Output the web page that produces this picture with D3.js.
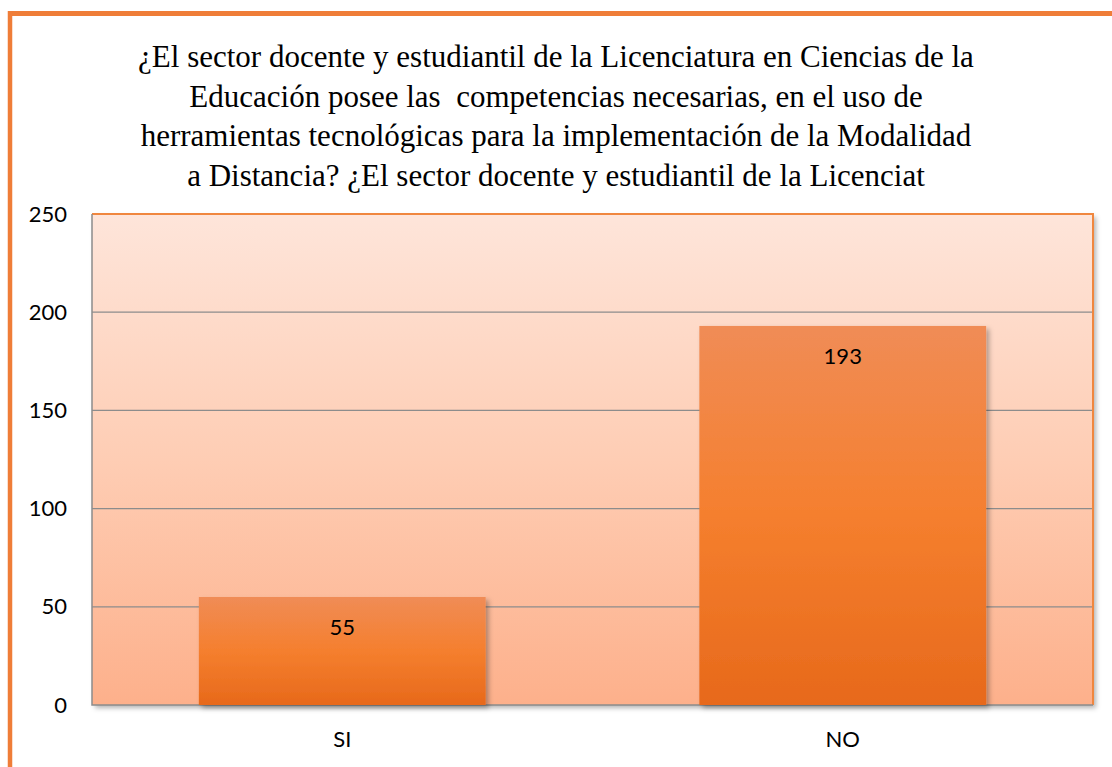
<!DOCTYPE html>
<html>
<head>
<meta charset="utf-8">
<script src="https://cdn.jsdelivr.net/npm/d3@7"></script>
<style>
  body { margin: 0; background: #fff; }
  svg { display: block; }
</style>
</head>
<body>
<script>
var categories = ['SI', 'NO'];
var values = [55, 193];
var yTicks = [0, 50, 100, 150, 200, 250];
var titleLines = [
  '¿El sector docente y estudiantil de la Licenciatura en Ciencias de la',
  'Educación posee las  competencias necesarias, en el uso de',
  'herramientas tecnológicas para la implementación de la Modalidad',
  'a Distancia? ¿El sector docente y estudiantil de la Licenciat'
];

var W = 1112, H = 767;
var svg = d3.select('body').append('svg').attr('width', W).attr('height', H);

var defs = svg.append('defs');

// plot background gradient
var bg = defs.append('linearGradient').attr('id', 'bgGrad')
  .attr('x1', 0).attr('y1', 0).attr('x2', 0).attr('y2', 1);
bg.append('stop').attr('offset', '0%').attr('stop-color', '#fee5da');
bg.append('stop').attr('offset', '50%').attr('stop-color', '#fecdb4');
bg.append('stop').attr('offset', '100%').attr('stop-color', '#fdb08b');

// bar gradient
var bg2 = defs.append('linearGradient').attr('id', 'barGrad')
  .attr('x1', 0).attr('y1', 0).attr('x2', 0).attr('y2', 1);
bg2.append('stop').attr('offset', '0%').attr('stop-color', '#f08c56');
bg2.append('stop').attr('offset', '50%').attr('stop-color', '#f57f2e');
bg2.append('stop').attr('offset', '100%').attr('stop-color', '#e7691b');

var shadow = defs.append('filter').attr('id', 'shadow')
  .attr('x', '-10%').attr('y', '-10%').attr('width', '130%').attr('height', '130%');
shadow.append('feDropShadow').attr('dx', 3).attr('dy', 3).attr('stdDeviation', 2.5)
  .attr('flood-color', '#000').attr('flood-opacity', 0.3);

// outer frame
svg.append('line').attr('x1', 8).attr('y1', 13.5).attr('x2', W).attr('y2', 13.5)
  .attr('stroke', '#ef7d38').attr('stroke-width', 5);
svg.append('line').attr('x1', 10).attr('y1', 11).attr('x2', 10).attr('y2', H)
  .attr('stroke', '#ef7d38').attr('stroke-width', 4.5);

// title
svg.append('g').selectAll('text')
  .data(titleLines)
  .enter().append('text')
    .attr('x', 556)
    .attr('y', (d, i) => 67 + i * 39.5)
    .attr('text-anchor', 'middle')
    .attr('font-family', '"Liberation Serif", "Times New Roman", serif')
    .attr('font-size', 31)
    .attr('fill', '#000')
    .style('white-space', 'pre')
    .text(d => d);

var pLeft = 92, pRight = 1093, pTop = 214, pBottom = 705;

var x = d3.scaleBand().domain(categories).range([pLeft, pRight])
  .paddingInner(0.427).paddingOuter(0.2135);
var y = d3.scaleLinear().domain([0, 250]).range([pBottom, pTop]);

// plot area
svg.append('rect')
  .attr('x', pLeft).attr('y', pTop)
  .attr('width', pRight - pLeft).attr('height', pBottom - pTop)
  .attr('fill', 'url(#bgGrad)')
  .attr('filter', 'url(#shadow)');

// gridlines
svg.append('g').selectAll('line')
  .data(yTicks.filter(d => d > 0 && d < 250))
  .enter().append('line')
    .attr('x1', pLeft).attr('x2', pRight)
    .attr('y1', d => y(d)).attr('y2', d => y(d))
    .attr('stroke', '#8c8c8c').attr('stroke-width', 1.2);

// plot area border: orange top/right, gray left/bottom
svg.append('path')
  .attr('d', 'M' + pLeft + ',' + pTop + 'H' + pRight + 'V' + pBottom)
  .attr('fill', 'none').attr('stroke', '#f0873f').attr('stroke-width', 2);
svg.append('path')
  .attr('d', 'M' + pLeft + ',' + pTop + 'V' + pBottom + 'H' + pRight)
  .attr('fill', 'none').attr('stroke', '#8c8c8c').attr('stroke-width', 1.5);

// bars
svg.append('g').selectAll('rect')
  .data(values)
  .enter().append('rect')
    .attr('x', (d, i) => x(categories[i]))
    .attr('y', d => y(d))
    .attr('width', x.bandwidth())
    .attr('height', d => y(0) - y(d))
    .attr('fill', 'url(#barGrad)')
    .attr('filter', 'url(#shadow)');

// value labels
svg.append('g').selectAll('text')
  .data(values)
  .enter().append('text')
    .attr('x', (d, i) => x(categories[i]) + x.bandwidth() / 2)
    .attr('y', d => y(d) + 38)
    .attr('text-anchor', 'middle')
    .attr('font-family', 'Lato, "Open Sans", sans-serif')
    .attr('font-size', 22)
    .attr('fill', '#000')
    .text(d => d);

// y axis
var yAxis = svg.append('g')
  .attr('transform', 'translate(' + pLeft + ',0)')
  .call(d3.axisLeft(y).tickValues(yTicks).tickSize(0).tickPadding(25));
yAxis.select('.domain').remove();
yAxis.selectAll('text')
  .attr('font-family', 'Lato, "Open Sans", sans-serif')
  .attr('font-size', 22)
  .attr('fill', '#000');

// x axis
var xAxis = svg.append('g')
  .attr('transform', 'translate(0,' + pBottom + ')')
  .call(d3.axisBottom(x).tickSize(0).tickPadding(26));
xAxis.select('.domain').remove();
xAxis.selectAll('text')
  .attr('font-family', 'Lato, "Open Sans", sans-serif')
  .attr('font-size', 22)
  .attr('fill', '#000');
</script>
</body>
</html>
